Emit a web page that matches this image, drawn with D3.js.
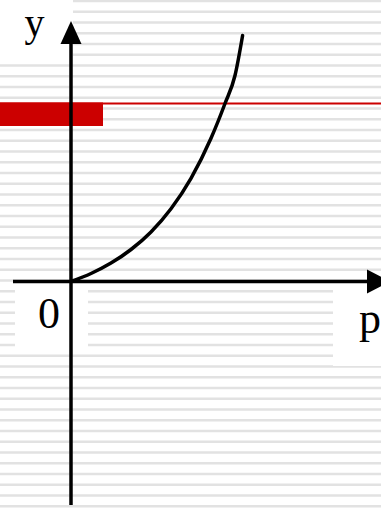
<!DOCTYPE html>
<html>
<head>
<meta charset="utf-8">
<script src="https://cdn.jsdelivr.net/npm/d3@7"></script>
<style>
  html, body { margin: 0; padding: 0; background: #ffffff; }
  svg { display: block; }
</style>
</head>
<body>
<script>
// Rising curve y(p), sampled along its length
const pValues = [0, 0.5, 1.0, 1.5, 2.0, 2.5, 3.0, 3.5, 3.85, 4.1, 4.29];
const yValues = [0, 0.2, 0.46, 0.8, 1.24, 1.82, 2.58, 3.58, 4.45, 5.15, 6.15];

// Horizontal reference level (red line)
const refLevel = [4.45];

// Axis labels
const axisLabels = ["y", "0", "p"];

const W = 381, H = 509;

const svg = d3.select("body").append("svg")
  .attr("width", W).attr("height", H);

// Scales: origin of the axes at (71, 281.5)
const x = d3.scaleLinear().domain([-1.775, 7.75]).range([0, 381]);
const y = d3.scaleLinear().domain([0, 6.15]).range([281.5, 35.5]);

// Striped slide background
const stripeStep = 10.75;
const stripes = d3.range(1, H + 3, stripeStep);
svg.append("g").selectAll("rect").data(stripes).join("rect")
  .attr("x", 0).attr("width", W)
  .attr("y", d => d - 1.25).attr("height", 2.5)
  .attr("fill", "#e2e2e2");

// White panels behind the axis labels
const panels = [
  { x0: 0, y0: 0, x1: 73, y1: 64 },
  { x0: 15, y0: 283, x1: 88, y1: 352 },
  { x0: 333, y0: 290, x1: 381, y1: 366 }
];
svg.append("g").selectAll("rect").data(panels).join("rect")
  .attr("x", d => d.x0).attr("y", d => d.y0)
  .attr("width", d => d.x1 - d.x0).attr("height", d => d.y1 - d.y0)
  .attr("fill", "#ffffff");

// Red reference line with bullet block at the left
svg.append("line")
  .attr("x1", 0).attr("x2", W)
  .attr("y1", y(refLevel[0])).attr("y2", y(refLevel[0]))
  .attr("stroke", "#cc0000").attr("stroke-width", 2);
svg.append("rect")
  .attr("x", 0).attr("y", y(refLevel[0]) - 1)
  .attr("width", x(0.8)).attr("height", 23.5)
  .attr("fill", "#cc0000");

// Axes
const ax = svg.append("g").attr("stroke", "#000").attr("stroke-width", 3.5);
ax.append("line")
  .attr("x1", x(0)).attr("x2", x(0))
  .attr("y1", 505).attr("y2", 40);
ax.append("line")
  .attr("x1", 13).attr("x2", 372)
  .attr("y1", y(0)).attr("y2", y(0));

// Arrowheads
const ox = x(0), oy = y(0);
svg.append("path")
  .attr("d", `M${ox},21 L${ox - 10.5},44 L${ox + 10.5},44 Z`)
  .attr("fill", "#000");
svg.append("path")
  .attr("d", `M390,${oy} L367,${oy - 12} L367,${oy + 12} Z`)
  .attr("fill", "#000");

// Curve
const pts = pValues.map((p, i) => [p, yValues[i]]);
const line = d3.line()
  .x(d => x(d[0])).y(d => y(d[1]))
  .curve(d3.curveMonotoneX);
svg.append("path")
  .datum(pts)
  .attr("d", line)
  .attr("fill", "none")
  .attr("stroke", "#000")
  .attr("stroke-width", 3.5)
  .attr("stroke-linecap", "round");

// Axis labels
const font = "'Liberation Serif', 'Times New Roman', serif";
svg.append("text")
  .attr("x", 34.5).attr("y", 36)
  .attr("text-anchor", "middle")
  .attr("font-family", font).attr("font-size", 40)
  .text(axisLabels[0]);
svg.append("text")
  .attr("x", 49).attr("y", 328)
  .attr("text-anchor", "middle")
  .attr("font-family", font).attr("font-size", 44)
  .text(axisLabels[1]);
svg.append("text")
  .attr("x", 359).attr("y", 333)
  .attr("text-anchor", "start")
  .attr("font-family", font).attr("font-size", 44)
  .text(axisLabels[2]);
</script>
</body>
</html>
